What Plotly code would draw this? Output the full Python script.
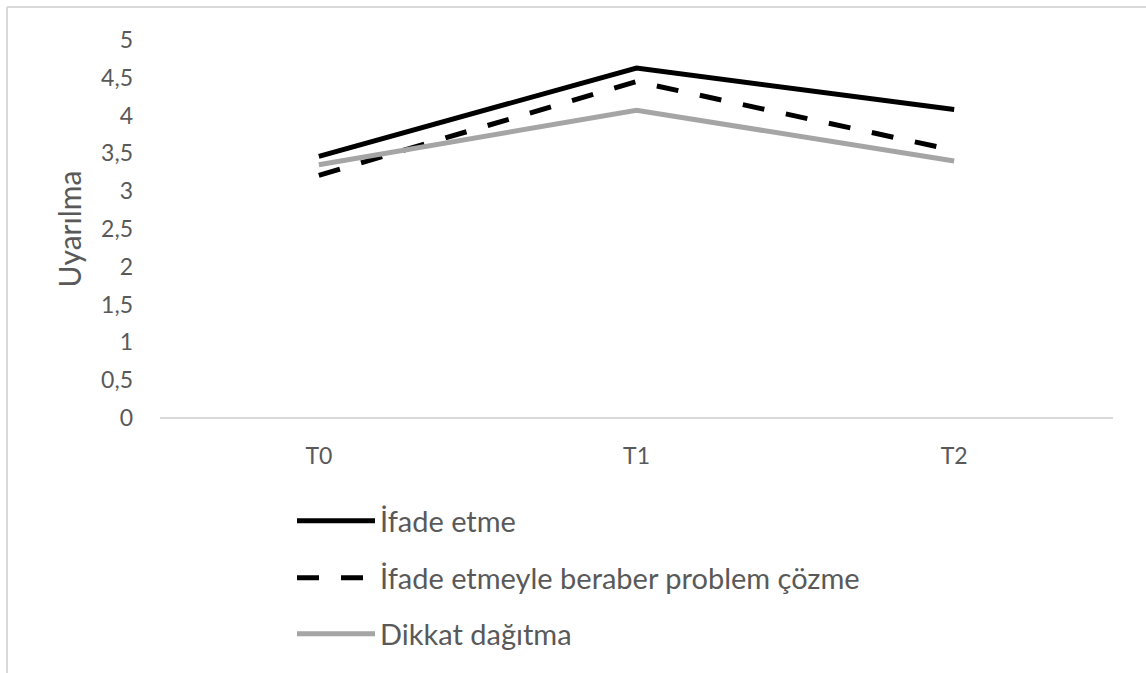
import plotly.graph_objects as go

categories = ["T0", "T1", "T2"]
ifade_etme = [3.46, 4.63, 4.08]
ifade_problem = [3.21, 4.45, 3.54]
dikkat = [3.35, 4.07, 3.40]
series_names = ["İfade etme", "İfade etmeyle beraber problem çözme", "Dikkat dağıtma"]
y_ticks = [0, 0.5, 1, 1.5, 2, 2.5, 3, 3.5, 4, 4.5, 5]

FONT = "Lato, 'Open Sans', sans-serif"
GRAY_TXT = "#595959"

fig = go.Figure()
fig.add_trace(go.Scatter(x=categories, y=ifade_etme, mode="lines", name=series_names[0],
                         line=dict(color="#000000", width=5), legend="legend"))
fig.add_trace(go.Scatter(x=categories, y=ifade_problem, mode="lines", name=series_names[1],
                         line=dict(color="#000000", width=5, dash="22px,22px"), legend="legend2"))
fig.add_trace(go.Scatter(x=categories, y=dikkat, mode="lines", name=series_names[2],
                         line=dict(color="#a5a5a5", width=5), legend="legend3"))

W, H = 1146, 673
L, R, T, B = 160, 33, 40, 255
pw, ph = W - L - R, H - T - B

def px_x(x):
    return (x - L) / pw

def px_y(y):
    return (H - B - y) / ph

leg_common = dict(font=dict(family=FONT, size=29, color=GRAY_TXT), bgcolor="rgba(0,0,0,0)",
                  xanchor="left", yanchor="middle", itemwidth=78)

fig.update_layout(
    width=W, height=H,
    margin=dict(l=L, r=R, t=T, b=B),
    paper_bgcolor="white", plot_bgcolor="white",
    separators=", ",
    font=dict(family=FONT, color=GRAY_TXT),
    showlegend=True,
    legend=dict(x=px_x(292), y=px_y(521), **leg_common),
    legend2=dict(x=px_x(292), y=px_y(578), **leg_common),
    legend3=dict(x=px_x(292), y=px_y(634), **leg_common),
    xaxis=dict(range=[-0.5, 2.5], showgrid=False, zeroline=False, showline=False,
               ticks="", tickfont=dict(family=FONT, size=23, color=GRAY_TXT),
               ticklabelstandoff=22),
    yaxis=dict(range=[0, 5], tickvals=y_ticks, showgrid=False, zeroline=True,
               zerolinecolor="#d9d9d9", zerolinewidth=2, showline=False, ticks="",
               tickfont=dict(family=FONT, size=23, color=GRAY_TXT), ticklabelstandoff=26,
               title=dict(text="Uyarılma", font=dict(family=FONT, size=30, color=GRAY_TXT), standoff=10)),
    shapes=[
        dict(type="line", xref="paper", yref="paper", x0=px_x(7), x1=px_x(7), y0=px_y(7), y1=px_y(700),
             line=dict(color="#d9d9d9", width=2)),
        dict(type="line", xref="paper", yref="paper", x0=px_x(7), x1=px_x(1200), y0=px_y(7), y1=px_y(7),
             line=dict(color="#d9d9d9", width=2)),
    ],
)

fig.write_html("out.html")
